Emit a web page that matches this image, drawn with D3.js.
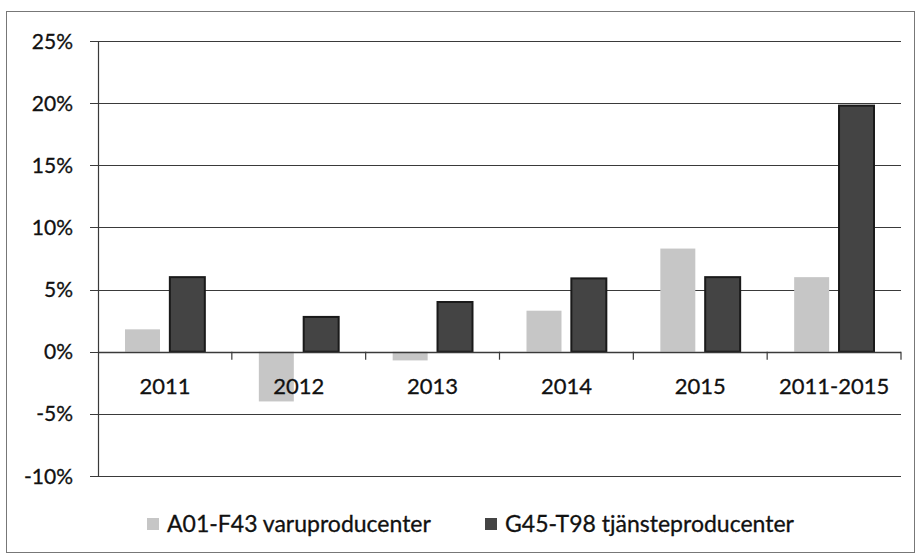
<!DOCTYPE html>
<html>
<head>
<meta charset="utf-8">
<script src="https://cdn.jsdelivr.net/npm/d3@7"></script>
<style>
  body { margin: 0; background: #fff; }
  text { font-family: Lato, "Open Sans", sans-serif; fill: #111; stroke: #111; stroke-width: 0.3px; }
</style>
</head>
<body>
<script>
// categories and series
var categories = ["2011", "2012", "2013", "2014", "2015", "2011-2015"];
var seriesNames = ["A01-F43 varuproducenter", "G45-T98 tjänsteproducenter"];
var varuValues = [1.8, -4.0, -0.7, 3.3, 8.3, 6.0];
var tjanstValues = [6.0, 2.8, 4.0, 5.9, 6.0, 19.8];
var yTicks = [-10, -5, 0, 5, 10, 15, 20, 25];
var colors = ["#c6c6c6", "#444444"];

var width = 918, height = 558;
var margin = {left: 98, right: 17, top: 41, bottom: 82};

var svg = d3.select("body").append("svg")
    .attr("width", width)
    .attr("height", height);

// outer frame
svg.append("rect")
    .attr("x", 6.5).attr("y", 11.5)
    .attr("width", 908).attr("height", 541)
    .attr("fill", "none")
    .attr("stroke", "#777")
    .attr("stroke-width", 1);

var x = d3.scaleBand()
    .domain(categories)
    .range([margin.left, width - margin.right])
    .paddingInner(0)
    .paddingOuter(0);

var y = d3.scaleLinear()
    .domain([-10, 25])
    .range([height - margin.bottom, margin.top]);

var sub = d3.scaleBand()
    .domain([0, 1])
    .range([27, x.bandwidth() - 27])
    .paddingInner(0.22);

// gridlines
svg.append("g")
    .selectAll("line")
    .data(yTicks)
    .enter()
    .append("line")
    .attr("x1", margin.left - 8)
    .attr("x2", width - margin.right)
    .attr("y1", function(d){ return Math.round(y(d)) + 0.5; })
    .attr("y2", function(d){ return Math.round(y(d)) + 0.5; })
    .attr("stroke", "#3a3a3a")
    .attr("stroke-width", 1.2);

// y tick labels
svg.append("g")
    .selectAll("text")
    .data(yTicks)
    .enter()
    .append("text")
    .attr("x", 73)
    .attr("y", function(d){ return y(d); })
    .attr("dy", "0.36em")
    .attr("text-anchor", "end")
    .attr("font-size", "21px")
    .text(function(d){ return d + "%"; });

// y axis line
svg.append("line")
    .attr("x1", margin.left + 0.5).attr("x2", margin.left + 0.5)
    .attr("y1", y(25)).attr("y2", y(-10))
    .attr("stroke", "#3a3a3a")
    .attr("stroke-width", 1.2);

// bars
var groups = svg.selectAll(".cat")
    .data(categories)
    .enter()
    .append("g")
    .attr("class", "cat")
    .attr("transform", function(d){ return "translate(" + x(d) + ",0)"; });

groups.append("rect")
    .attr("x", sub(0))
    .attr("width", sub.bandwidth())
    .attr("y", function(d, i){ return y(Math.max(0, varuValues[i])); })
    .attr("height", function(d, i){ return Math.abs(y(varuValues[i]) - y(0)); })
    .attr("fill", colors[0]);

groups.append("rect")
    .attr("x", sub(1))
    .attr("width", sub.bandwidth())
    .attr("y", function(d, i){ return y(Math.max(0, tjanstValues[i])); })
    .attr("height", function(d, i){ return Math.abs(y(tjanstValues[i]) - y(0)); })
    .attr("fill", colors[1])
    .attr("stroke", "#1a1a1a")
    .attr("stroke-width", 2);

// zero axis with ticks
svg.append("line")
    .attr("x1", margin.left).attr("x2", width - margin.right)
    .attr("y1", Math.round(y(0)) + 0.5).attr("y2", Math.round(y(0)) + 0.5)
    .attr("stroke", "#3a3a3a")
    .attr("stroke-width", 1.4);

svg.append("g")
    .selectAll("line")
    .data(categories)
    .enter()
    .append("line")
    .attr("x1", function(d){ return x(d) + x.bandwidth(); })
    .attr("x2", function(d){ return x(d) + x.bandwidth(); })
    .attr("y1", y(0))
    .attr("y2", y(0) + 8)
    .attr("stroke", "#3a3a3a")
    .attr("stroke-width", 1.2);

// category labels
svg.append("g")
    .selectAll("text")
    .data(categories)
    .enter()
    .append("text")
    .attr("x", function(d){ return x(d) + x.bandwidth() / 2; })
    .attr("y", y(0) + 42)
    .attr("text-anchor", "middle")
    .attr("font-size", "22px")
    .text(function(d){ return d; });

// legend
var legendX = [147, 485];
var legend = svg.selectAll(".legend")
    .data(seriesNames)
    .enter()
    .append("g")
    .attr("class", "legend")
    .attr("transform", function(d, i){ return "translate(" + legendX[i] + ",524)"; });

legend.append("rect")
    .attr("x", 0).attr("y", -6)
    .attr("width", 12).attr("height", 12)
    .attr("fill", function(d, i){ return colors[i]; });

legend.append("text")
    .attr("x", 20)
    .attr("dy", "0.36em")
    .attr("font-size", "23px")
    .text(function(d){ return d; });
</script>
</body>
</html>
